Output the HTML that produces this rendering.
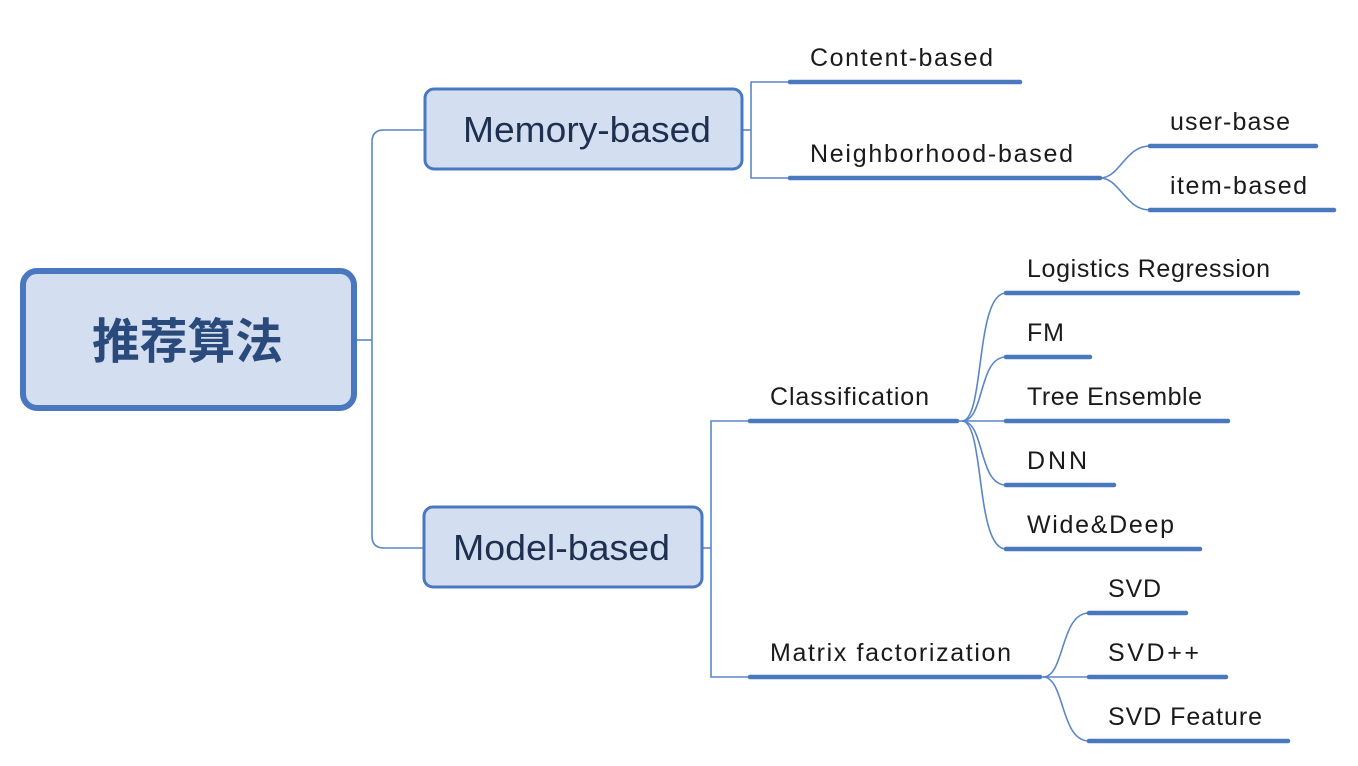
<!DOCTYPE html>
<html><head><meta charset="utf-8"><style>
html,body{margin:0;padding:0;background:#fff;}
svg{display:block;}
text{font-family:"Liberation Sans","Noto Sans CJK SC",sans-serif;fill:#1a1a1a;}
</style></head><body>
<svg width="1358" height="766" viewBox="0 0 1358 766" xmlns="http://www.w3.org/2000/svg">
<g fill="none" stroke="#5b86c6" stroke-width="1.6">
  <path d="M356 340 H372"/>
  <path d="M424 130 H384 Q372 130 372 142 V536 Q372 548 384 548 H424"/>
  <path d="M743 130 H751"/>
  <path d="M790 82 H751 V178 H790"/>
  <path d="M1100 178 C1120 178,1125 146,1150 146"/>
  <path d="M1100 178 C1120 178,1125 210,1150 210"/>
  <path d="M703 548 H711"/>
  <path d="M750 421 H711 V677 H750"/>
  <path d="M957 421 H1005"/>
  <path d="M962 421 C985 421,975 293,1006 293"/>
  <path d="M962 421 C985 421,978 357,1006 357"/>
  <path d="M962 421 C985 421,978 485,1006 485"/>
  <path d="M962 421 C985 421,975 549,1006 549"/>
  <path d="M1040 677 H1088"/>
  <path d="M1043 677 C1065 677,1060 613,1089 613"/>
  <path d="M1043 677 C1065 677,1060 741,1089 741"/>
</g>
<g stroke="#4a78c0" stroke-width="4.5" stroke-linecap="round">
  <path d="M790 82 H1020"/>
  <path d="M790 178 H1100"/>
  <path d="M1150 146 H1316"/>
  <path d="M1150 210 H1334"/>
  <path d="M750 421 H957"/>
  <path d="M750 677 H1040"/>
  <path d="M1006 293 H1298"/>
  <path d="M1006 357 H1090"/>
  <path d="M1006 421 H1228"/>
  <path d="M1006 485 H1114"/>
  <path d="M1006 549 H1200"/>
  <path d="M1089 613 H1186"/>
  <path d="M1089 677 H1226"/>
  <path d="M1089 741 H1288"/>
</g>
<rect x="23" y="271" width="331" height="137" rx="14" fill="#d3dff0" stroke="#4a78c0" stroke-width="6"/>
<rect x="425" y="89" width="317" height="80" rx="9" fill="#d3dff0" stroke="#4a78c0" stroke-width="3"/>
<rect x="424" y="507" width="278" height="80" rx="9" fill="#d3dff0" stroke="#4a78c0" stroke-width="3"/>
<text x="92" y="358" font-size="48" font-weight="bold" style="fill:#2b4a7c" textLength="191" lengthAdjust="spacingAndGlyphs">推荐算法</text>
<text x="463" y="142" font-size="36" style="fill:#1f2f4f" textLength="248" lengthAdjust="spacingAndGlyphs">Memory-based</text>
<text x="453" y="560" font-size="36" style="fill:#1f2f4f" textLength="217" lengthAdjust="spacingAndGlyphs">Model-based</text>
<g font-size="25" lengthAdjust="spacingAndGlyphs">
  <text x="810" y="66" textLength="183">Content-based</text>
  <text x="810" y="162" textLength="263">Neighborhood-based</text>
  <text x="1170" y="130" textLength="120">user-base</text>
  <text x="1170" y="194" textLength="137">item-based</text>
  <text x="770" y="405" textLength="159">Classification</text>
  <text x="770" y="661" textLength="241">Matrix factorization</text>
  <text x="1027" y="277" textLength="243">Logistics Regression</text>
  <text x="1027" y="341" textLength="37">FM</text>
  <text x="1027" y="405" textLength="175">Tree Ensemble</text>
  <text x="1027" y="469" textLength="60">DNN</text>
  <text x="1027" y="533" textLength="147">Wide&amp;Deep</text>
  <text x="1108" y="597" textLength="53">SVD</text>
  <text x="1108" y="661" textLength="91">SVD++</text>
  <text x="1108" y="725" textLength="154">SVD Feature</text>
</g>
</svg>
</body></html>
